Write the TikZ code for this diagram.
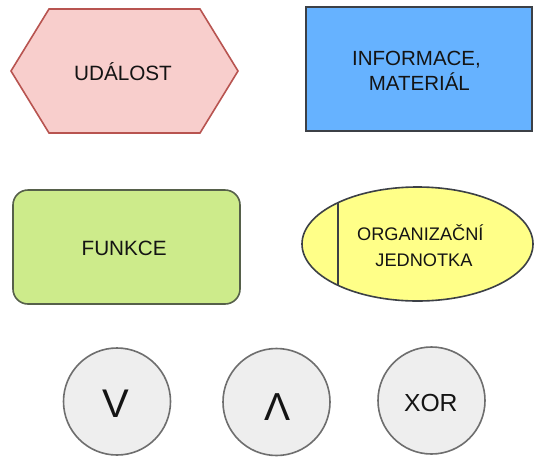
\documentclass[tikz,border=0pt]{standalone}
\usepackage{fontspec}
\setmainfont{Liberation Sans}
\usetikzlibrary{shapes.geometric}

\definecolor{evtfill}{HTML}{F8CECC}
\definecolor{evtline}{HTML}{B85450}
\definecolor{infofill}{HTML}{66B2FF}
\definecolor{funcfill}{HTML}{CDEB8B}
\definecolor{funcline}{HTML}{56604A}
\definecolor{orgfill}{HTML}{FFFF88}
\definecolor{darkline}{HTML}{3C4046}
\definecolor{gatefill}{HTML}{EEEEEE}
\definecolor{gateline}{HTML}{6E6E6E}
\definecolor{ink}{HTML}{141414}

\tikzset{
  shapebox/.style={inner sep=0pt, outer sep=0pt, line width=1.6pt},
  gate/.style={shapebox, circle, draw=gateline, fill=gatefill, minimum size=107pt},
  lbl/.style={text=ink, inner sep=0pt, anchor=base},
  lblml/.style={lbl, align=center},
}

\begin{document}
\begin{tikzpicture}[x=1pt, y=-1pt]
\useasboundingbox (0,0) rectangle (534,458);
\fill[white] (0,0) rectangle (534,458);

% event: elongated hexagon
\draw[shapebox, draw=evtline, fill=evtfill]
  (11,71) -- (49,9) -- (200,9) -- (238,71) -- (200,133) -- (49,133) -- cycle;
\node[lbl, font=\fontsize{20.7}{25}\selectfont] (evt) at (123,80) {UDÁLOST};

% information / material
\node[shapebox, draw=darkline, fill=infofill, minimum width=226pt, minimum height=124pt] (info) at (419,69) {};
\node[lblml, font=\fontsize{20.5}{25}\selectfont] (infotxt) at (416.5,90.7) {INFORMACE,\\\hspace*{0.278em}MATERIÁL};

% function
\node[shapebox, draw=funcline, fill=funcfill, rounded corners=15pt, minimum width=227pt, minimum height=114pt] (func) at (126.5,247) {};
\node[lbl, font=\fontsize{20.7}{25}\selectfont] (functxt) at (124.2,255) {FUNKCE};

% organisational unit
\node[shapebox, ellipse, draw=darkline, fill=orgfill, minimum width=231pt, minimum height=114pt] (org) at (417.5,244) {};
\draw[line width=2pt, draw=darkline] (org.center) ++(-79.5,-41.3) -- ++(0,82.6);
\node[lblml, font=\fontsize{18.2}{26}\selectfont] (orgtxt) at (420.3,266) {ORGANIZAČNÍ\\\hspace*{0.4em}JEDNOTKA};

% logical connectors
\node[gate] (orgate) at (117,401.5) {};
\node[lbl, font=\fontsize{40}{40}\selectfont] (ortxt) at (115.5,417) {V};
\node[gate] (andgate) at (276.5,402) {};
\node[lbl, font=\fontsize{39}{39}\selectfont] (andtxt) at (277.5,420) {Λ};
\node[gate] (xorgate) at (431.5,400.5) {};
\node[lbl, font=\fontsize{24.7}{25}\selectfont] (xortxt) at (430.8,411) {XOR};
\end{tikzpicture}
\end{document}
